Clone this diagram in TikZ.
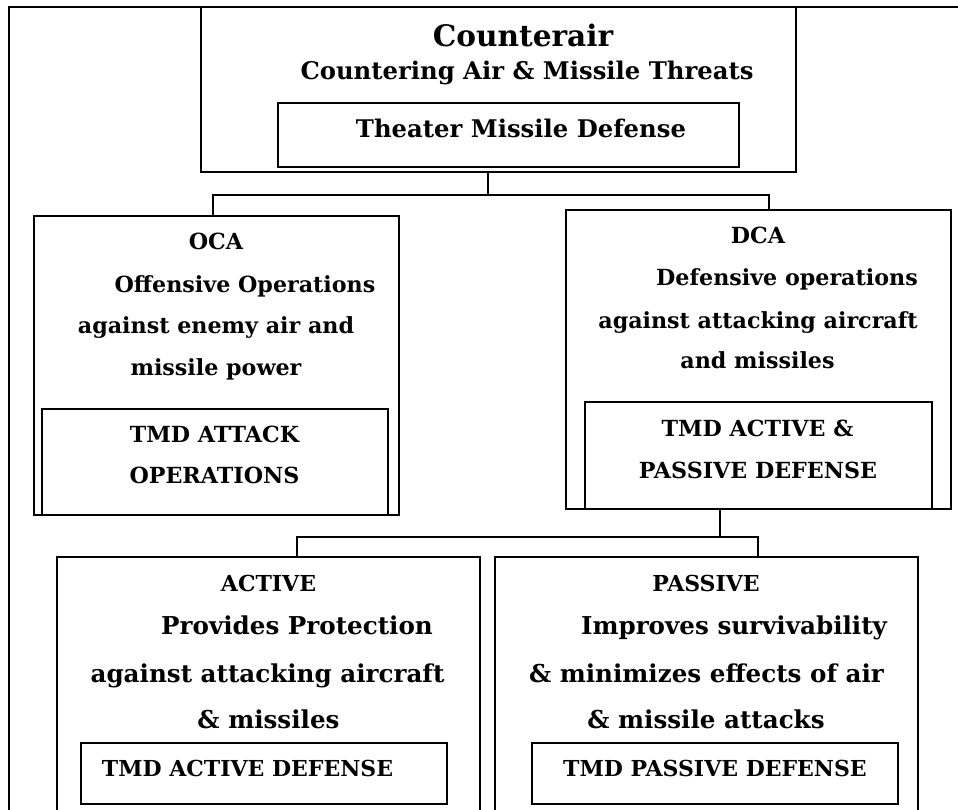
\documentclass[tikz,border=0pt]{standalone}
\usepackage{fontspec}
\setmainfont{DejaVu Serif}
\begin{document}
\begin{tikzpicture}[x=1pt,y=-1pt,
  box/.style={draw,line width=1.6pt,rectangle,inner sep=0pt,outer sep=0pt,anchor=north west},
  conn/.style={line width=1.4pt},
  txt/.style={anchor=base,inner sep=0pt,font=\bfseries\fontsize{#1}{#1}\selectfont},
  ta/.style={txt=29.6},
  tb/.style={txt=24.3},
  tc/.style={txt=22.2},
  tdcap/.style={txt=22},
  td/.style={txt=24.6}]
\useasboundingbox (0,0) rectangle (958,810);
\clip (0,0) rectangle (958,810);
% outer frame
\node[box,minimum width=1000pt,minimum height=900pt] (frame) at (9,7) {};
% top box
\node[box,minimum width=595pt,minimum height=165pt] (top) at (201,7) {};
\node[box,minimum width=461pt,minimum height=64pt] (tmd) at (278,103) {};
\node[ta] (t1) at (523,47) {Counterair};
\node[tb] (t2) at (527,80) {Countering Air \& Missile Threats};
\node[tb] (t3) at (521,138) {Theater Missile Defense};
% OCA
\node[box,minimum width=365pt,minimum height=299pt] (oca) at (34,216) {};
\node[box,minimum width=346pt,minimum height=106pt] (ocai) at (42,409) {};
\node[tc] (o1) at (216,250) {OCA};
\node[tc] (o2) at (245,292) {Offensive Operations};
\node[tc] (o3) at (216,333) {against enemy air and};
\node[tc] (o4) at (216,375) {missile power};
\node[tc] (o5) at (214.5,442) {TMD ATTACK};
\node[tc] (o6) at (214.5,483) {OPERATIONS};
% DCA
\node[box,minimum width=385pt,minimum height=299pt] (dca) at (566,210) {};
\node[box,minimum width=347pt,minimum height=107pt] (dcai) at (585,402) {};
\node[tc] (d1) at (758,244) {DCA};
\node[tc] (d2) at (787,286) {Defensive operations};
\node[tc] (d3) at (758,328) {against attacking aircraft};
\node[tc] (d4) at (757.5,368) {and missiles};
\node[tc] (d5) at (757.5,436) {TMD ACTIVE \&};
\node[tc] (d6) at (758,478) {PASSIVE DEFENSE};
% ACTIVE
\node[box,minimum width=423pt,minimum height=300pt] (act) at (57,557) {};
\node[box,minimum width=366pt,minimum height=61pt] (acti) at (81,743) {};
\node[tdcap] (a1) at (268.5,591) {ACTIVE};
\node[td] (a2) at (297,634) {Provides Protection};
\node[td] (a3) at (267.5,682) {against attacking aircraft};
\node[td] (a4) at (268.5,728) {\& missiles};
\node[tdcap] (a5) at (247.5,776) {TMD ACTIVE DEFENSE};
% PASSIVE
\node[box,minimum width=423pt,minimum height=300pt] (pas) at (495,557) {};
\node[box,minimum width=366pt,minimum height=61pt] (pasi) at (532,743) {};
\node[tdcap] (p1) at (706,591) {PASSIVE};
\node[td] (p2) at (734,634) {Improves survivability};
\node[td] (p3) at (706.5,682) {\& minimizes effects of air};
\node[td] (p4) at (706,728) {\& missile attacks};
\node[tdcap] (p5) at (715,776) {TMD PASSIVE DEFENSE};
% connectors
\coordinate (j1) at (488,195);
\coordinate (b1) at (213,195);
\coordinate (b2) at (769,195);
\draw[conn] (j1 |- top.south) -- (j1);
\draw[conn] (b1 |- oca.north) -- (b1) -- (b2) -- (b2 |- dca.north);
\coordinate (j2) at (720,537);
\coordinate (c1) at (297,537);
\coordinate (c2) at (758,537);
\draw[conn] (j2 |- dca.south) -- (j2);
\draw[conn] (c1 |- act.north) -- (c1) -- (c2) -- (c2 |- pas.north);
\end{tikzpicture}
\end{document}
